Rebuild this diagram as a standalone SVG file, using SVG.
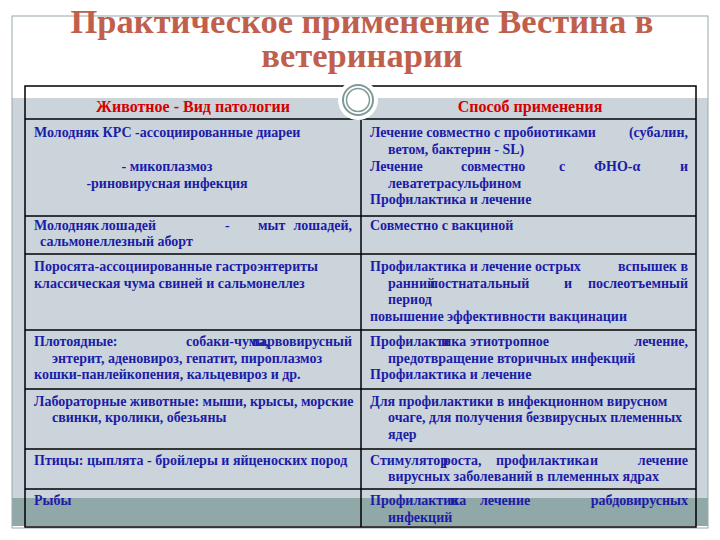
<svg xmlns="http://www.w3.org/2000/svg" width="720" height="540" viewBox="0 0 720 540">
<style>
.t{font-family:"Liberation Serif",serif;font-weight:bold;font-size:14px;fill:#1c1ca8}
.e{text-anchor:end}
.h{font-family:"Liberation Serif",serif;font-weight:bold;font-size:16px;fill:#d40000;text-anchor:middle}
.ln{stroke:#000;stroke-width:1.5;fill:none}
</style>
<rect width="720" height="540" fill="#fff"/>
<rect x="12" y="100" width="696" height="400" fill="#cad4da"/>
<rect x="12" y="498" width="696" height="28" fill="#90a8a8"/>
<rect x="12" y="16" width="696" height="512" fill="none" stroke="#9aa8ae" stroke-width="1"/>
<line x1="12" y1="99" x2="708" y2="99" stroke="#9aa8ae"/>
<g id="title" font-family="Liberation Serif,serif" font-weight="bold" font-size="34.5" fill="#c0604c" text-anchor="middle">
<text x="362" y="33">Практическое применение Вестина в</text>
<text x="362" y="67">ветеринарии</text>
</g>
<g id="table">
<rect x="25" y="86" width="671" height="441" class="ln"/>
<line x1="361" y1="86" x2="361" y2="527" class="ln"/>
<g class="ln">
<line x1="25" y1="119" x2="696" y2="119"/>
<line x1="25" y1="216" x2="696" y2="216"/>
<line x1="25" y1="254" x2="696" y2="254"/>
<line x1="25" y1="330" x2="696" y2="330"/>
<line x1="25" y1="389" x2="696" y2="389"/>
<line x1="25" y1="449" x2="696" y2="449"/>
<line x1="25" y1="489" x2="696" y2="489"/>
</g>
</g>
<g id="ornament">
<circle cx="358" cy="100" r="20" fill="#fff"/>
<circle cx="358" cy="100" r="15" fill="none" stroke="#7f9898" stroke-width="2"/>
<circle cx="358" cy="100" r="11.5" fill="none" stroke="#7f9898" stroke-width="1.5"/>
</g>
<g id="header">
<text class="h" x="193" y="112">Животное - Вид патологии</text>
<text class="h" x="530" y="112">Способ применения</text>
</g>
<g id="row1">
<text class="t" x="34" y="137">Молодняк КРС -ассоциированные диареи</text>
<text class="t" x="167" y="171" text-anchor="middle">- микоплазмоз</text>
<text class="t" x="167" y="188" text-anchor="middle">-риновирусная инфекция</text>
<text class="t" x="370" y="137">Лечение совместно с пробиотиками</text>
<text class="t e" x="688" y="137">(субалин,</text>
<text class="t" x="388" y="154">ветом, бактерин - SL)</text>
<text class="t" x="370" y="171">Лечение</text>
<text class="t" x="461" y="171">совместно</text>
<text class="t" x="559" y="171">с</text>
<text class="t" x="594" y="171">ФНО-α</text>
<text class="t e" x="688" y="171">и</text>
<text class="t" x="388" y="188">леватетрасульфином</text>
<text class="t" x="370" y="204">Профилактика и лечение</text>
</g>
<g id="row2">
<text class="t" x="34" y="230">Молодняк</text>
<text class="t" x="101" y="230">лошадей</text>
<text class="t" x="225" y="230">-</text>
<text class="t" x="258" y="230">мыт</text>
<text class="t e" x="352" y="230">лошадей,</text>
<text class="t" x="40" y="246">сальмонеллезный аборт</text>
<text class="t" x="370" y="230">Совместно с вакциной</text>
</g>
<g id="row3">
<text class="t" x="34" y="271">Поросята-ассоциированные гастроэнтериты</text>
<text class="t" x="34" y="288">классическая чума свиней и сальмонеллез</text>
<text class="t" x="370" y="271">Профилактика и лечение острых</text>
<text class="t e" x="688" y="271">вспышек в</text>
<text class="t" x="388" y="288">ранний</text>
<text class="t" x="430" y="288">постнатальный</text>
<text class="t" x="564" y="288">и</text>
<text class="t e" x="688" y="288">послеотъемный</text>
<text class="t" x="388" y="304">период</text>
<text class="t" x="370" y="321">повышение эффективности вакцинации</text>
</g>
<g id="row4">
<text class="t" x="34" y="346">Плотоядные:</text>
<text class="t" x="186" y="346">собаки-чума,</text>
<text class="t e" x="352" y="346">парвовирусный</text>
<text class="t" x="52" y="363">энтерит, аденовироз, гепатит, пироплазмоз</text>
<text class="t" x="34" y="379">кошки-панлейкопения, кальцевироз и др.</text>
<text class="t" x="370" y="346">Профилактика</text>
<text class="t" x="441" y="346">и</text>
<text class="t" x="470" y="346">этиотропное</text>
<text class="t e" x="688" y="346">лечение,</text>
<text class="t" x="388" y="363">предотвращение вторичных инфекций</text>
<text class="t" x="370" y="379">Профилактика и лечение</text>
</g>
<g id="row5">
<text class="t" x="34" y="406">Лабораторные животные: мыши, крысы, морские</text>
<text class="t" x="52" y="422">свинки, кролики, обезьяны</text>
<text class="t" x="370" y="406">Для профилактики в инфекционном вирусном</text>
<text class="t" x="388" y="422">очаге, для получения безвирусных племенных</text>
<text class="t" x="388" y="439">ядер</text>
</g>
<g id="row6">
<text class="t" x="34" y="465">Птицы: цыплята - бройлеры и яйценоских пород</text>
<text class="t" x="370" y="465">Стимулятор</text>
<text class="t" x="443" y="465">роста,</text>
<text class="t" x="496" y="465">профилактика</text>
<text class="t" x="590" y="465">и</text>
<text class="t e" x="688" y="465">лечение</text>
<text class="t" x="388" y="481">вирусных заболеваний в племенных ядрах</text>
</g>
<g id="row7">
<text class="t" x="34" y="505">Рыбы</text>
<text class="t" x="370" y="505">Профилактика</text>
<text class="t" x="450" y="505">и</text>
<text class="t" x="480" y="505">лечение</text>
<text class="t e" x="688" y="505">рабдовирусных</text>
<text class="t" x="388" y="522">инфекций</text>
</g>
</svg>
